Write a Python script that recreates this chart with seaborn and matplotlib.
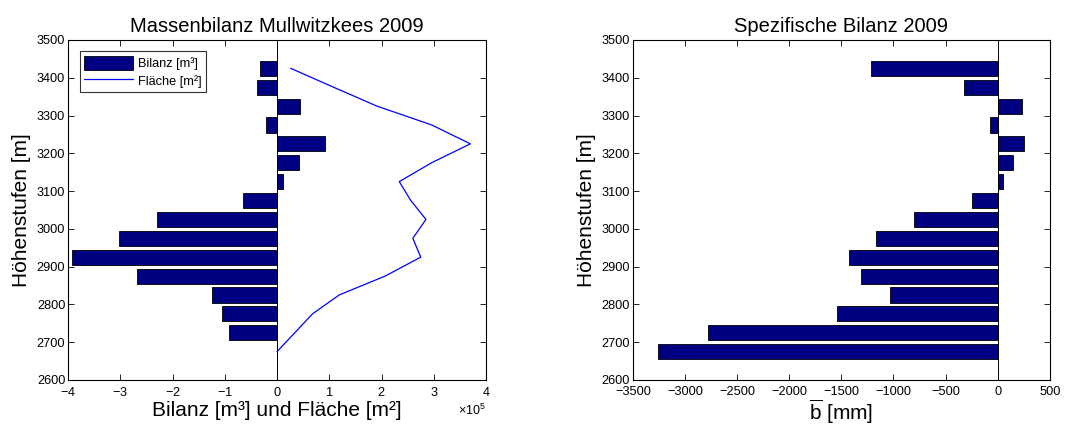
import numpy as np
import pandas as pd
import matplotlib
matplotlib.use("Agg")
import matplotlib.pyplot as plt
import matplotlib.ticker as mticker
import seaborn as sns

# Hoehenstufen (Mitte des 50 m Bandes)
hoehen = [3425, 3375, 3325, 3275, 3225, 3175, 3125, 3075,
          3025, 2975, 2925, 2875, 2825, 2775, 2725, 2675]

# Massenbilanz je Hoehenstufe [m3]
bilanz = [-0.33e5, -0.38e5, 0.44e5, -0.22e5, 0.92e5, 0.415e5, 0.12e5, -0.645e5,
          -2.30e5, -3.03e5, -3.93e5, -2.68e5, -1.245e5, -1.06e5, -0.91e5, -0.005e5]

# Flaeche je Hoehenstufe [m2]
flaeche = [0.26e5, 1.08e5, 1.91e5, 2.96e5, 3.70e5, 2.96e5, 2.34e5, 2.56e5,
           2.85e5, 2.60e5, 2.75e5, 2.07e5, 1.19e5, 0.68e5, 0.34e5, 0.0]

# spezifische Bilanz [mm]
spez = [-1217, -323, 230, -77, 252, 144, 51, -249,
        -805, -1169, -1428, -1313, -1035, -1543, -2776, -3259]

df = pd.DataFrame({'hoehe': hoehen, 'bilanz': bilanz, 'flaeche': flaeche, 'spez': spez})

sns.set_theme(style='white')
plt.rcParams['font.family'] = ['Liberation Sans', 'DejaVu Sans']
plt.rcParams['mathtext.fontset'] = 'custom'
plt.rcParams['mathtext.rm'] = 'Liberation Sans'
plt.rcParams['text.color'] = 'black'
plt.rcParams['axes.labelcolor'] = 'black'

navy = (0, 0, 0.5)

fig = plt.figure(figsize=(10.8, 4.25), dpi=100)
ax1 = fig.add_axes([0.063, 0.106, 0.387, 0.8])
ax2 = fig.add_axes([0.586, 0.106, 0.386, 0.8])

# Massenbilanz
sns.barplot(data=df, x='bilanz', y='hoehe', orient='h', native_scale=True, width=0.8,
            color=navy, saturation=1, edgecolor='black', linewidth=0.6,
            label='Bilanz [m³]', ax=ax1)
sns.lineplot(data=df, x='flaeche', y='hoehe', sort=False, estimator=None,
             color='blue', linewidth=0.9, label='Fläche [m²]', ax=ax1)
ax1.axvline(0, color='black', linewidth=0.7, zorder=1)
ax1.set_xlim(-4e5, 4e5)
ax1.set_ylim(2600, 3500)
ax1.set_xticks(np.arange(-4e5, 4.1e5, 1e5))
fmt = mticker.ScalarFormatter(useMathText=True)
fmt.set_powerlimits((0, 0))
ax1.xaxis.set_major_formatter(fmt)
ax1.set_title('Massenbilanz Mullwitzkees 2009', fontsize=14.5, color='black')
ax1.set_xlabel('Bilanz [m³] und Fläche [m²]', fontsize=15, labelpad=2)
ax1.set_ylabel('Höhenstufen [m]', fontsize=15, labelpad=4)
handles, labels = ax1.get_legend_handles_labels()
order = [labels.index('Bilanz [m³]'), labels.index('Fläche [m²]')]
leg = ax1.legend([handles[i] for i in order], [labels[i] for i in order],
                 loc='upper left', fontsize=9.2, frameon=True, fancybox=False,
                 borderaxespad=0.9, handlelength=3.8, handleheight=1.3,
                 borderpad=0.35, labelspacing=0.25, handletextpad=0.4)
leg.get_frame().set_edgecolor('black')
leg.get_frame().set_linewidth(0.8)

# Spezifische Bilanz
sns.barplot(data=df, x='spez', y='hoehe', orient='h', native_scale=True, width=0.8,
            color=navy, saturation=1, edgecolor='black', linewidth=0.6, ax=ax2)
ax2.axvline(0, color='black', linewidth=0.7, zorder=1)
ax2.set_xlim(-3500, 500)
ax2.set_ylim(2600, 3500)
ax2.set_xticks(np.arange(-3500, 501, 500))
ax2.set_title('Spezifische Bilanz 2009', fontsize=14.5, color='black')
ax2.set_xlabel(r'$\overline{\mathrm{b}}$ [mm]', fontsize=15, labelpad=0)
ax2.set_ylabel('Höhenstufen [m]', fontsize=15, labelpad=4)

for ax in (ax1, ax2):
    ax.set_yticks(np.arange(2600, 3501, 100))
    ax.tick_params(direction='in', bottom=True, left=True, top=True, right=True,
                   length=4, width=0.6, labelsize=9.2, pad=2, colors='black')
    ax.tick_params(axis='x', pad=4)
    for s in ax.spines.values():
        s.set_color('black')
        s.set_linewidth(0.8)
    ax.xaxis.offsetText.set_fontsize(9)

fig.savefig('out.png', dpi=100)
